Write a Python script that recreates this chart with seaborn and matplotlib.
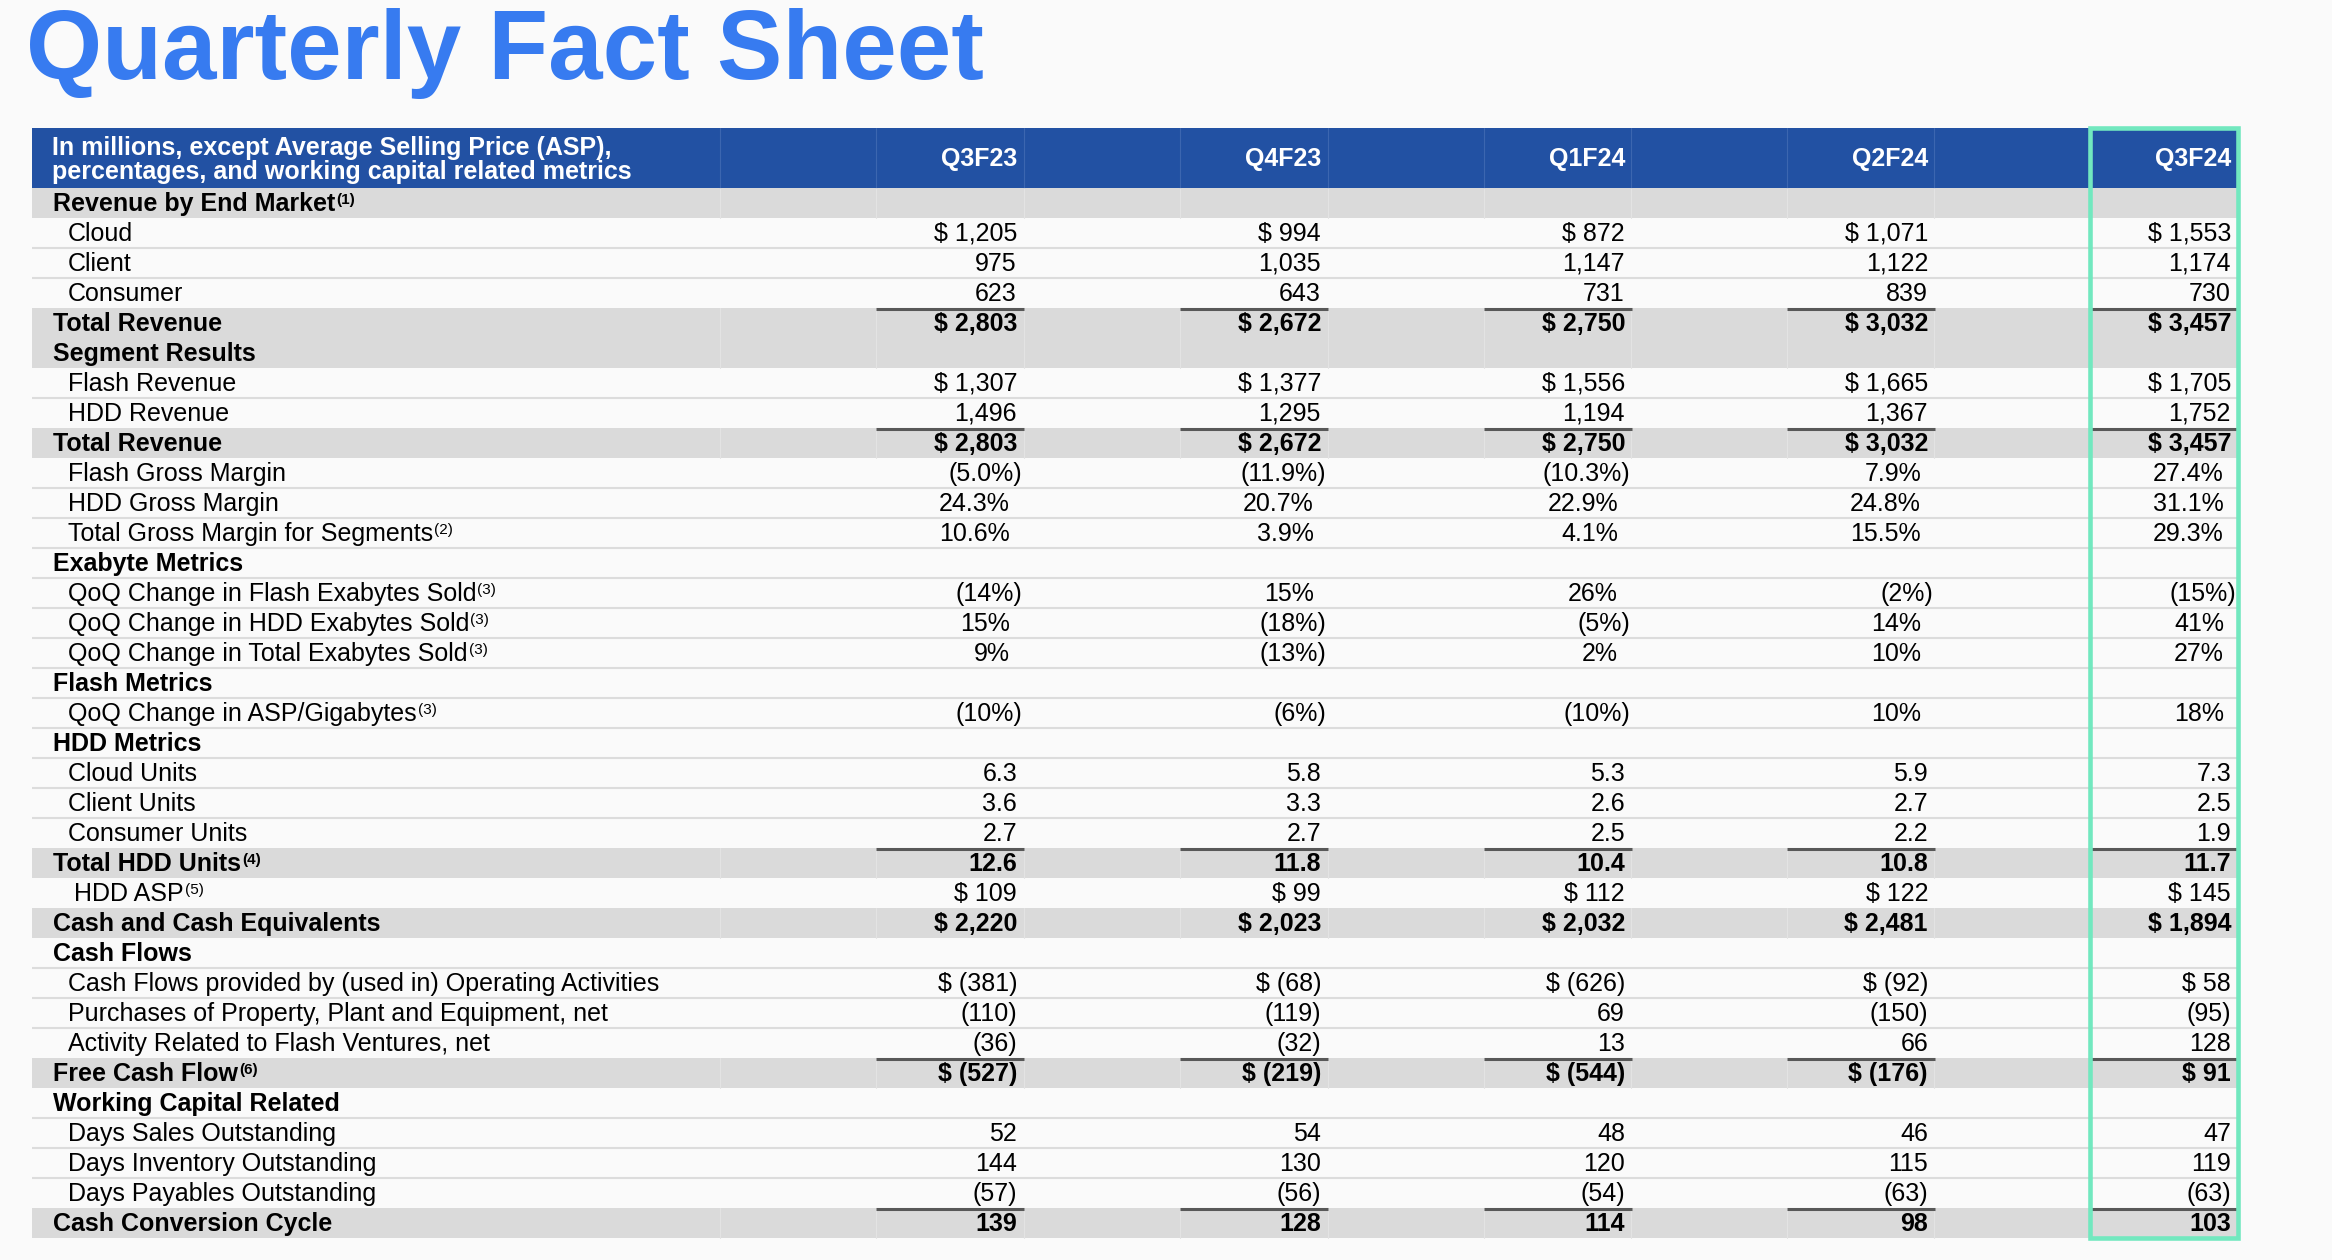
import numpy as np
import matplotlib
matplotlib.use("Agg")
import matplotlib.pyplot as plt
import seaborn as sns
from matplotlib.colors import ListedColormap
from matplotlib.patches import Rectangle

# ---- data ----
quarters = ["Q3F23", "Q4F23", "Q1F24", "Q2F24", "Q3F24"]

labels = [
    "Revenue by End Market", "Cloud", "Client", "Consumer", "Total Revenue",
    "Segment Results", "Flash Revenue", "HDD Revenue", "Total Revenue",
    "Flash Gross Margin", "HDD Gross Margin", "Total Gross Margin for Segments",
    "Exabyte Metrics", "QoQ Change in Flash Exabytes Sold",
    "QoQ Change in HDD Exabytes Sold", "QoQ Change in Total Exabytes Sold",
    "Flash Metrics", "QoQ Change in ASP/Gigabytes",
    "HDD Metrics", "Cloud Units", "Client Units", "Consumer Units",
    "Total HDD Units", "HDD ASP", "Cash and Cash Equivalents",
    "Cash Flows", "Cash Flows provided by (used in) Operating Activities",
    "Purchases of Property, Plant and Equipment, net",
    "Activity Related to Flash Ventures, net", "Free Cash Flow",
    "Working Capital Related", "Days Sales Outstanding",
    "Days Inventory Outstanding", "Days Payables Outstanding",
    "Cash Conversion Cycle",
]

# head = gray section, sec = white section, item, item2 = deeper indent,
# total = gray bold with rule, bold = gray bold without rule
kinds = [
    "head", "item", "item", "item", "total",
    "head", "item", "item", "total",
    "item", "item", "item",
    "sec", "item", "item", "item",
    "sec", "item",
    "sec", "item", "item", "item",
    "total", "item2", "bold",
    "sec", "item", "item", "item", "total",
    "sec", "item", "item", "item", "total",
]

footnotes = {0: "(1)", 11: "(2)", 13: "(3)", 14: "(3)", 15: "(3)", 17: "(3)",
             22: "(4)", 23: "(5)", 29: "(6)"}

pct_rows = [9, 10, 11, 13, 14, 15, 17]

q3f23 = ["", "$ 1,205", "975", "623", "$ 2,803", "", "$ 1,307", "1,496", "$ 2,803",
         "(5.0%)", "24.3%", "10.6%", "", "(14%)", "15%", "9%", "", "(10%)",
         "", "6.3", "3.6", "2.7", "12.6", "$ 109", "$ 2,220", "",
         "$ (381)", "(110)", "(36)", "$ (527)", "", "52", "144", "(57)", "139"]
q4f23 = ["", "$ 994", "1,035", "643", "$ 2,672", "", "$ 1,377", "1,295", "$ 2,672",
         "(11.9%)", "20.7%", "3.9%", "", "15%", "(18%)", "(13%)", "", "(6%)",
         "", "5.8", "3.3", "2.7", "11.8", "$ 99", "$ 2,023", "",
         "$ (68)", "(119)", "(32)", "$ (219)", "", "54", "130", "(56)", "128"]
q1f24 = ["", "$ 872", "1,147", "731", "$ 2,750", "", "$ 1,556", "1,194", "$ 2,750",
         "(10.3%)", "22.9%", "4.1%", "", "26%", "(5%)", "2%", "", "(10%)",
         "", "5.3", "2.6", "2.5", "10.4", "$ 112", "$ 2,032", "",
         "$ (626)", "69", "13", "$ (544)", "", "48", "120", "(54)", "114"]
q2f24 = ["", "$ 1,071", "1,122", "839", "$ 3,032", "", "$ 1,665", "1,367", "$ 3,032",
         "7.9%", "24.8%", "15.5%", "", "(2%)", "14%", "10%", "", "10%",
         "", "5.9", "2.7", "2.2", "10.8", "$ 122", "$ 2,481", "",
         "$ (92)", "(150)", "66", "$ (176)", "", "46", "115", "(63)", "98"]
q3f24 = ["", "$ 1,553", "1,174", "730", "$ 3,457", "", "$ 1,705", "1,752", "$ 3,457",
         "27.4%", "31.1%", "29.3%", "", "(15%)", "41%", "27%", "", "18%",
         "", "7.3", "2.5", "1.9", "11.7", "$ 145", "$ 1,894", "",
         "$ 58", "(95)", "128", "$ 91", "", "47", "119", "(63)", "103"]
columns = [q3f23, q4f23, q1f24, q2f24, q3f24]

header_lines = ["In millions, except Average Selling Price (ASP),",
                "percentages, and working capital related metrics"]

# ---- style ----
W, H = 2332, 1260
BG = "#fafafa"
GRAY = "#dadada"
BLUE = "#2251a3"
TITLE = "#377bf0"
GREEN = "#72e8bf"
FS = 18

sns.set_theme(style="white")
plt.rcParams["font.family"] = ["Liberation Sans", "DejaVu Sans"]

TL, TR = 32, 2237
HT, HB = 128, 188
RH = 30
col_left = [876, 1180, 1484, 1787, 2090]
CW = 148
dividers = [720, 876, 1024, 1180, 1328, 1484, 1631, 1787, 1934, 2090]

n = len(labels)
gray_rows = [k in ("head", "total", "bold") for k in kinds]

fig = plt.figure(figsize=(W / 100, H / 100), dpi=100, facecolor=BG)

# row shading through seaborn heatmap
band = fig.add_axes([TL / W, 1 - (HB + n * RH) / H, (TR - TL) / W, n * RH / H])
shade = np.array([[1 if g else 0] for g in gray_rows])
sns.heatmap(shade, ax=band, cmap=ListedColormap([BG, GRAY]), vmin=0, vmax=1,
            cbar=False, xticklabels=False, yticklabels=False, linewidths=0)

ax = fig.add_axes([0, 0, 1, 1])
ax.set_xlim(0, W)
ax.set_ylim(H, 0)
ax.set_axis_off()
ax.patch.set_alpha(0)

ax.text(26, 79, "Quarterly Fact Sheet", fontsize=70.5, fontweight="bold",
        color=TITLE, va="baseline")

# header
ax.add_patch(Rectangle((TL, HT), TR - TL, HB - HT, color=BLUE, lw=0))
for x in dividers:
    ax.plot([x, x], [HT, HB], color="#3c66b0", lw=0.8)
ax.text(52, 155, header_lines[0], color="white", fontsize=FS, fontweight="bold", va="baseline")
ax.text(52, 178.5, header_lines[1], color="white", fontsize=FS, fontweight="bold", va="baseline")
for q, cl in zip(quarters, col_left):
    ax.text(cl + CW - 7, 166, q, color="white", fontsize=FS, fontweight="bold",
            ha="right", va="baseline")

label_x = {"head": 53, "sec": 53, "total": 53, "bold": 53, "item": 68, "item2": 74}
label_texts = {}
for i, (lab, kind) in enumerate(zip(labels, kinds)):
    top = HB + i * RH
    base = top + 23
    # faint column dividers in gray rows
    if gray_rows[i]:
        for x in dividers:
            ax.plot([x, x], [top, top + RH], color="#e3e3e3", lw=0.8)
    # light separators between consecutive white rows
    if i + 1 < n and not gray_rows[i] and not gray_rows[i + 1]:
        ax.plot([TL, TR], [top + RH, top + RH], color="#dcdcdc", lw=1.5, solid_capstyle="butt")
    # dark rules above totals
    if kind == "total":
        for cl in col_left:
            ax.plot([cl, cl + CW], [top + 1, top + 1], color="#585858", lw=2.2,
                    solid_capstyle="butt")
    bold = kind in ("head", "sec", "total", "bold")
    t = ax.text(label_x[kind], base, lab, fontsize=FS, va="baseline", color="black",
                fontweight="bold" if bold else "normal")
    label_texts[i] = (t, base, bold)
    for col, cl in zip(columns, col_left):
        v = col[i]
        if not v:
            continue
        right = cl + CW - 7
        if i in pct_rows:
            right = right + 5 if v.startswith("(") else right - 7
        ax.text(right, base, v, fontsize=FS, ha="right", va="baseline", color="black",
                fontweight="bold" if kind in ("total", "bold") else "normal")

# footnote superscripts placed after the label ink
fig.canvas.draw()
renderer = fig.canvas.get_renderer()
for i, sup in footnotes.items():
    t, base, bold = label_texts[i]
    bb = t.get_window_extent(renderer)
    ax.text(bb.x1 + 1, base - 7, sup, fontsize=11, va="baseline", color="black",
            fontweight="bold" if bold else "normal")

# highlight of the latest quarter
ax.add_patch(Rectangle((2089.5, 128), 2237.5 - 2089.5, 1238 - 128, fill=False,
                       edgecolor=GREEN, lw=3.3, zorder=10))

fig.savefig("out.png", dpi=100, facecolor=BG)
